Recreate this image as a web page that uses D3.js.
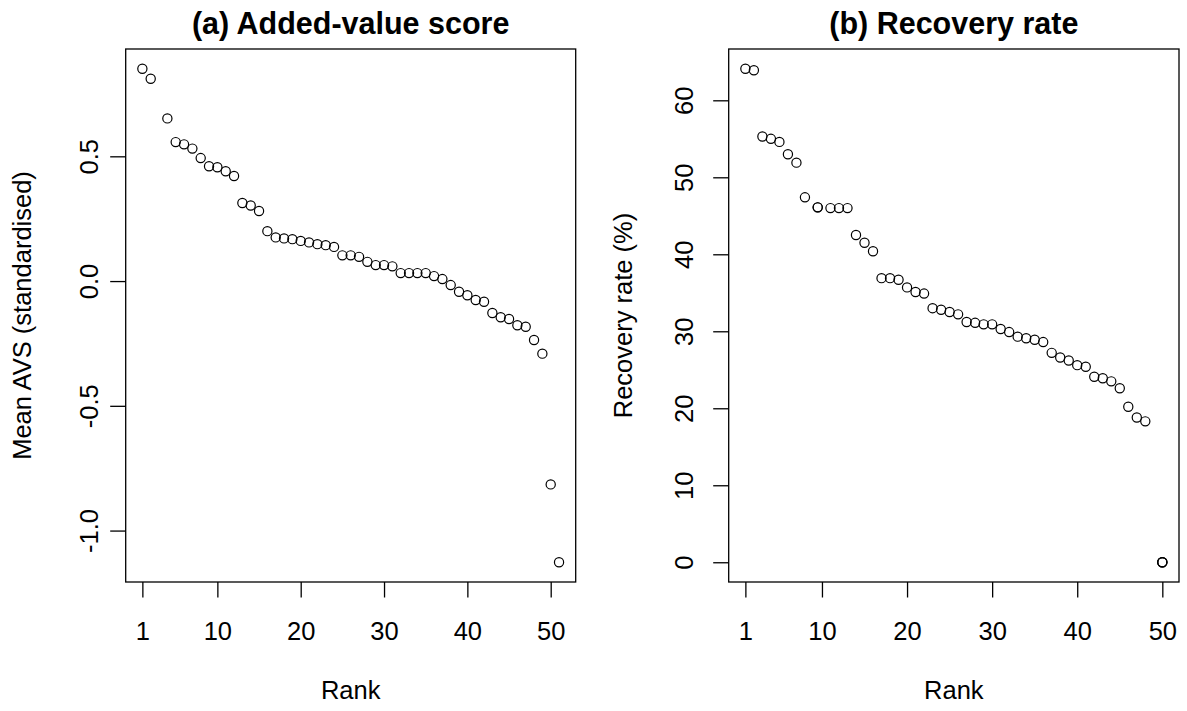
<!DOCTYPE html>
<html>
<head>
<meta charset="utf-8">
<script src="https://cdn.jsdelivr.net/npm/d3@7"></script>
<style>
  html, body { margin: 0; padding: 0; background: #fff; }
  svg { display: block; }
  text { font-family: "Liberation Sans", Arial, Helvetica, sans-serif; fill: #000; }
</style>
</head>
<body>
<svg id="chart" width="1187" height="711"></svg>
<script>
// ---- Data: panel (a) Added-value score ----
const rankA = [1, 2, 4, 5, 6, 7, 8, 9, 10, 11, 12, 13, 14, 15, 16, 17, 18, 19, 20, 21, 22, 23, 24, 25, 26,
               27, 28, 29, 30, 31, 32, 33, 34, 35, 36, 37, 38, 39, 40, 41, 42, 43, 44, 45, 46, 47, 48, 49, 50, 51];
const avsA = [0.851, 0.811, 0.652, 0.557, 0.548, 0.531, 0.493, 0.460, 0.456, 0.440, 0.421, 0.313, 0.303, 0.281,
              0.200, 0.175, 0.171, 0.168, 0.161, 0.155, 0.148, 0.144, 0.137, 0.103, 0.103, 0.097, 0.077, 0.064,
              0.064, 0.059, 0.032, 0.032, 0.032, 0.032, 0.020, 0.008, -0.016, -0.043, -0.057, -0.076, -0.083,
              -0.128, -0.145, -0.152, -0.177, -0.183, -0.236, -0.291, -0.815, -1.127];

// ---- Data: panel (b) Recovery rate ----
const rankB = [1, 2, 3, 4, 5, 6, 7, 8, 9.5, 9.5, 11, 12, 13, 14, 15, 16, 17, 18, 19, 20, 21, 22, 23, 24, 25,
               26, 27, 28, 29, 30, 31, 32, 33, 34, 35, 36, 37, 38, 39, 40, 41, 42, 43, 44, 45, 46, 47, 48, 50, 50, 50];
const recB = [64.1, 63.9, 55.3, 55.0, 54.6, 53.0, 51.9, 47.4, 46.1, 46.1, 46.0, 46.0, 46.0, 42.5, 41.5, 40.4,
              36.9, 36.9, 36.7, 35.7, 35.1, 34.9, 33.0, 32.8, 32.5, 32.2, 31.2, 31.1, 30.9, 30.9, 30.3, 29.9,
              29.3, 29.1, 28.9, 28.6, 27.2, 26.6, 26.2, 25.6, 25.4, 24.1, 23.9, 23.5, 22.6, 20.2, 18.8, 18.3,
              0, 0, 0];

// ---- Tick labels ----
const xTicks = [1, 10, 20, 30, 40, 50];
const yTicksA = [-1.0, -0.5, 0.0, 0.5];
const yTicksB = [0, 10, 20, 30, 40, 50, 60];

const titles = ["(a) Added-value score", "(b) Recovery rate"];
const xLabel = "Rank";
const yLabels = ["Mean AVS (standardised)", "Recovery rate (%)"];

const svg = d3.select("#chart");

// R-style 4% padded domain
function padded(vals) {
  const [lo, hi] = d3.extent(vals);
  const p = (hi - lo) * 0.04;
  return [lo - p, hi + p];
}

const boxTop = 49, boxBottom = 582;
const tickLen = 15.5;
const F = 25.5;        // axis / tick label font size
const FT = 30.5;       // title font size
const xLabBase = 640;  // baseline of x tick labels
const xTitleBase = 699;
const titleBase = 34;
const hy = s => s.replace(/\u2212/g, "-");

function panel(cfg) {
  const g = svg.append("g");
  const x = d3.scaleLinear().domain(padded(cfg.xs)).range([cfg.left, cfg.right]);
  const y = d3.scaleLinear().domain(padded(cfg.ys)).range([boxBottom, boxTop]);

  // box
  g.append("rect")
    .attr("x", cfg.left).attr("y", boxTop)
    .attr("width", cfg.right - cfg.left).attr("height", boxBottom - boxTop)
    .attr("fill", "none").attr("stroke", "#000").attr("stroke-width", 1.3);

  // x axis
  const xa = g.append("g").attr("transform", `translate(0,${boxBottom})`)
    .call(d3.axisBottom(x).tickValues(xTicks).tickSize(tickLen).tickFormat(d3.format("d")));
  xa.select(".domain").remove();
  xa.selectAll("line").attr("stroke", "#000").attr("stroke-width", 1.3);
  xa.selectAll("text")
    .attr("font-size", F).attr("font-family", "Liberation Sans, Arial, sans-serif")
    .attr("y", xLabBase - boxBottom).attr("dy", null);

  // y axis
  const ya = g.append("g").attr("transform", `translate(${cfg.left},0)`)
    .call(d3.axisLeft(y).tickValues(cfg.yTicks).tickSize(tickLen).tickFormat(d => hy(cfg.fmt(d))));
  ya.select(".domain").remove();
  ya.selectAll("line").attr("stroke", "#000").attr("stroke-width", 1.3);
  ya.selectAll("text")
    .attr("font-size", F).attr("font-family", "Liberation Sans, Arial, sans-serif")
    .attr("x", null).attr("dy", null)
    .attr("text-anchor", "middle")
    .attr("transform", `translate(${-cfg.yLabOff},0) rotate(-90)`);

  // points
  g.append("g").selectAll("circle")
    .data(cfg.xs.map((d, i) => [d, cfg.ys[i]]))
    .join("circle")
    .attr("cx", d => x(d[0])).attr("cy", d => y(d[1]))
    .attr("r", 4.6)
    .attr("fill", "none").attr("stroke", "#000").attr("stroke-width", 1.2);

  // title
  const cx = (cfg.left + cfg.right) / 2;
  g.append("text").attr("x", cx).attr("y", titleBase)
    .attr("text-anchor", "middle").attr("font-size", FT).attr("font-weight", "bold")
    .text(cfg.title);
  // x label
  g.append("text").attr("x", cx).attr("y", xTitleBase)
    .attr("text-anchor", "middle").attr("font-size", F).text(xLabel);
  // y label
  g.append("text")
    .attr("transform", `translate(${cfg.yTitleBase},${(boxTop + boxBottom) / 2}) rotate(-90)`)
    .attr("text-anchor", "middle").attr("font-size", F).text(cfg.ylab);
}

panel({ xs: rankA, ys: avsA, left: 125.7, right: 575.7, yTicks: yTicksA,
        fmt: d3.format(".1f"), title: titles[0], ylab: yLabels[0], yLabOff: 28, yTitleBase: 31 });
panel({ xs: rankB, ys: recB, left: 728.7, right: 1179, yTicks: yTicksB,
        fmt: d3.format("d"), title: titles[1], ylab: yLabels[1], yLabOff: 36, yTitleBase: 632 });
</script>
</body>
</html>
